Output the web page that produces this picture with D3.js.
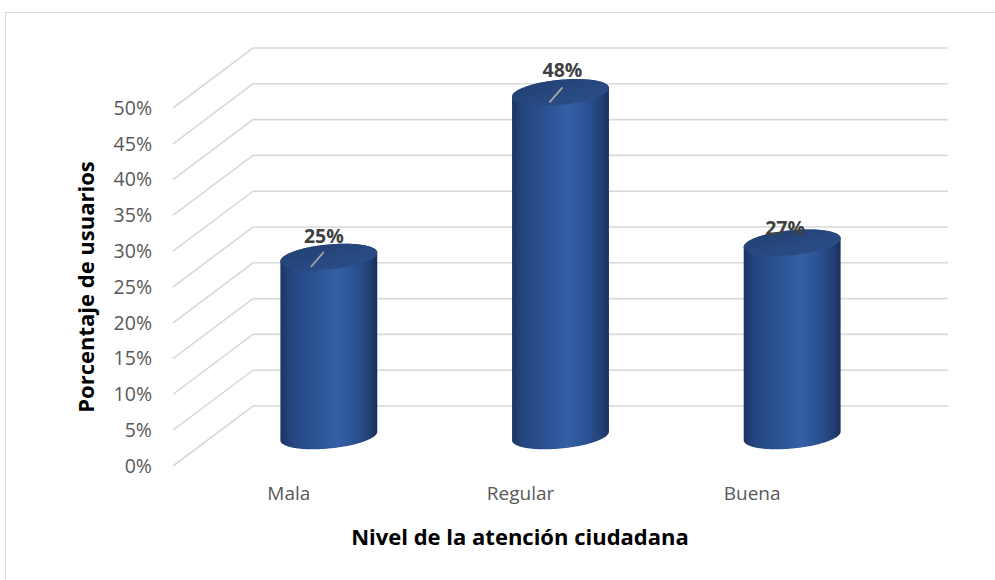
<!DOCTYPE html>
<html>
<head>
<meta charset="utf-8">
<script src="https://cdn.jsdelivr.net/npm/d3@7"></script>
<style>
  html, body { margin: 0; padding: 0; background: #ffffff; }
  svg { display: block; }
</style>
</head>
<body>
<svg id="chart" width="995" height="580"></svg>
<script>
// Survey results: share of users by perceived level of citizen service
const categories = ["Mala", "Regular", "Buena"];
const shares = [0.25, 0.48, 0.27];
const valueLabels = ["25%", "48%", "27%"];
const tickValues = [0, 0.05, 0.10, 0.15, 0.20, 0.25, 0.30, 0.35, 0.40, 0.45, 0.50];
const xTitle = "Nivel de la atención ciudadana";
const yTitle = "Porcentaje de usuarios";

// Hand-placed value labels (offset from the cylinder top centre)
const labelShiftX = [-5, 2, -7];
const labelShiftY = [-14, -15, -8];
const showLeader = [true, true, false];

const svg = d3.select("#chart");
const FONT = "'Open Sans', 'DejaVu Sans', sans-serif";

// 3D box: front plane and the depth offset to the back wall
const front = { left: 173, right: 868, top: 108, bottom: 466 };
const depth = { dx: 80, dy: -60 };

const y = d3.scaleLinear().domain([0, 0.5]).range([front.bottom, front.top]);
const x = d3.scaleBand().domain(categories).range([front.left, front.right]).padding(0);

// Outer frame of the chart area
svg.append("rect")
  .attr("x", 5.5).attr("y", 12.5)
  .attr("width", 1100).attr("height", 700)
  .attr("fill", "none").attr("stroke", "#d9d9d9").attr("stroke-width", 1);

// Gridlines: diagonal along the side wall, then across the back wall
const grid = svg.append("g").attr("fill", "none")
  .attr("stroke", "#d9d9d9").attr("stroke-width", 1.6);
grid.selectAll("path").data(tickValues).join("path")
  .attr("d", v => {
    const y0 = y(v);
    return `M${front.left},${y0}L${front.left + depth.dx},${y0 + depth.dy}L${front.right + depth.dx},${y0 + depth.dy}`;
  });

// Y axis labels
const yAxis = d3.axisLeft(y).tickValues(tickValues).tickFormat(d3.format(".0%"))
  .tickSize(0).tickPadding(21);
const gy = svg.append("g").attr("transform", `translate(${front.left},0)`).call(yAxis);
gy.select(".domain").remove();
gy.selectAll("text").attr("font-family", FONT).attr("font-size", 19.5).attr("fill", "#595959");

// X axis labels
const xAxis = d3.axisBottom(x).tickSize(0).tickPadding(21);
const gx = svg.append("g").attr("transform", `translate(0,${front.bottom})`).call(xAxis);
gx.select(".domain").remove();
gx.selectAll("text").attr("font-family", FONT).attr("font-size", 19).attr("fill", "#595959");

// Gradients for cylinder body and top cap
const defs = svg.append("defs");
const bodyGrad = defs.append("linearGradient").attr("id", "cylBody")
  .attr("x1", 0).attr("x2", 1).attr("y1", 0).attr("y2", 0);
[[0, "#1c3561"], [0.12, "#254781"], [0.35, "#2b5192"], [0.58, "#3560a6"], [0.8, "#2a4f8f"], [0.93, "#213f72"], [1, "#1a3058"]]
  .forEach(([o, c]) => bodyGrad.append("stop").attr("offset", o).attr("stop-color", c));
const topGrad = defs.append("linearGradient").attr("id", "cylTop")
  .attr("x1", 0).attr("x2", 1).attr("y1", 0).attr("y2", 1);
[[0, "#213e6c"], [0.5, "#27487f"], [1, "#2c508c"]]
  .forEach(([o, c]) => topGrad.append("stop").attr("offset", o).attr("stop-color", c));

// Cylinder geometry (tilted ellipses for a slight perspective)
const rx = x.bandwidth() * 0.21;
const ry = 12.5;
const tilt = -5.5 * Math.PI / 180;
function ellipsePoint(cx, cy, t) {
  const ex = rx * Math.cos(t), ey = ry * Math.sin(t);
  return [cx + ex * Math.cos(tilt) - ey * Math.sin(tilt), cy + ex * Math.sin(tilt) + ey * Math.cos(tilt)];
}
// parameter where the outline is vertical (left/right silhouette)
const tSide = Math.atan2(-ry * Math.sin(tilt), rx * Math.cos(tilt));
function arc(cx, cy, t0, t1, n) {
  const pts = [];
  for (let i = 0; i <= n; i++) pts.push(ellipsePoint(cx, cy, t0 + (t1 - t0) * i / n));
  return pts;
}

const bars = svg.append("g");
categories.forEach((cat, i) => {
  const cx = x(cat) + x.bandwidth() / 2 + depth.dx / 2;
  const cyBottom = y(0) + depth.dy / 2;
  const cyTop = y(shares[i]) + depth.dy / 2;
  // body: lower half of base ellipse (right -> left), then upper half of top ellipse
  const rightT = tSide, leftT = tSide + Math.PI;
  const lower = arc(cx, cyBottom, rightT, leftT, 60);
  const upper = arc(cx, cyTop, leftT, rightT + 2 * Math.PI, 60);
  const body = lower.concat(upper);
  bars.append("path")
    .attr("d", "M" + body.map(p => p.join(",")).join("L") + "Z")
    .attr("fill", "url(#cylBody)");
  const cap = arc(cx, cyTop, 0, 2 * Math.PI, 90);
  bars.append("path")
    .attr("d", "M" + cap.map(p => p.join(",")).join("L") + "Z")
    .attr("fill", "url(#cylTop)");

  const lx = cx + labelShiftX[i];
  if (showLeader[i]) {
    bars.append("line")
      .attr("x1", lx - 13).attr("y1", cyTop + 10)
      .attr("x2", lx).attr("y2", cyTop - 5)
      .attr("stroke", "#a6a6a6").attr("stroke-width", 1.8);
  }
  bars.append("text")
    .attr("x", lx).attr("y", cyTop + labelShiftY[i])
    .attr("text-anchor", "middle")
    .attr("font-family", FONT).attr("font-size", 19.5).attr("font-weight", 700)
    .attr("fill", "#404040")
    .text(valueLabels[i]);
});

// Axis titles
svg.append("text")
  .attr("x", 520).attr("y", 545)
  .attr("text-anchor", "middle")
  .attr("font-family", FONT).attr("font-size", 22).attr("font-weight", 700)
  .attr("fill", "#000000")
  .text(xTitle);
svg.append("text")
  .attr("transform", "translate(94,287) rotate(-90)")
  .attr("text-anchor", "middle")
  .attr("font-family", FONT).attr("font-size", 22).attr("font-weight", 700)
  .attr("fill", "#000000")
  .text(yTitle);
</script>
</body>
</html>
